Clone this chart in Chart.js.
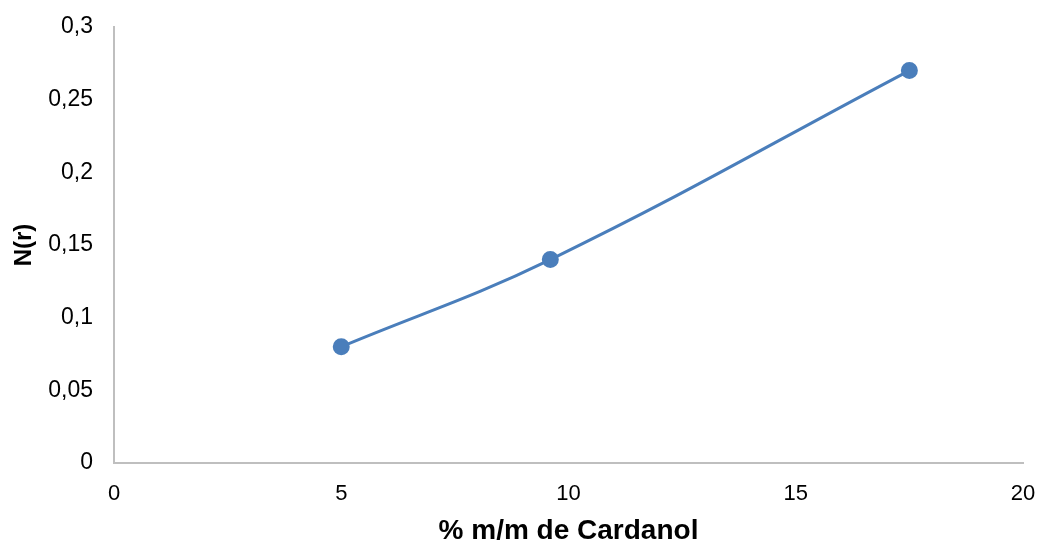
<!DOCTYPE html>
<html>
<head>
<meta charset="utf-8">
<script src="https://cdn.jsdelivr.net/npm/chart.js@4"></script>
<style>
  body { margin: 0; background: #fff; }
  #wrap { width: 1040px; height: 540px; }
</style>
</head>
<body>
<div id="wrap"><canvas id="chart" width="1040" height="540"></canvas></div>
<script>
// data
const cardanol = [5, 9.6, 17.5];
const nr = [0.08, 0.14, 0.27];
const xTitle = "% m/m de Cardanol";
const yTitle = "N(r)";

const comma = (v) => String(+v.toFixed(2)).replace(".", ",");

const points = cardanol.map((x, i) => ({ x: x, y: nr[i] }));

new Chart(document.getElementById("chart").getContext("2d"), {
  type: "scatter",
  data: {
    datasets: [
      {
        label: yTitle,
        data: points,
        showLine: true,
        tension: 0.4,
        borderColor: "#4a7ebb",
        backgroundColor: "#4a7ebb",
        borderWidth: 3,
        pointRadius: 7,
        pointHoverRadius: 7,
      },
    ],
  },
  options: {
    responsive: false,
    animation: false,
    layout: { padding: { top: 27, right: 17, left: 0, bottom: -8 } },
    plugins: { legend: { display: false }, tooltip: { enabled: false } },
    scales: {
      x: {
        type: "linear",
        min: 0,
        max: 20,
        ticks: { stepSize: 5, padding: 0, color: "#000", font: { family: "Liberation Sans", size: 22 } },
        // invisible tick marks just push the labels away from the axis
        grid: { display: false, drawTicks: true, tickLength: 18 },
        border: { color: "#bfbfbf", width: 2 },
        title: {
          display: true,
          text: xTitle,
          color: "#000",
          font: { family: "Liberation Sans", size: 28, weight: "bold" },
          padding: { top: 0, bottom: 0 },
        },
        afterFit: (s) => { s.height = 85; },
      },
      y: {
        min: 0,
        max: 0.3,
        ticks: { stepSize: 0.05, padding: 0, color: "#000", callback: comma, font: { family: "Liberation Sans", size: 23 } },
        grid: { display: false, drawTicks: true, tickLength: 21 },
        border: { color: "#bfbfbf", width: 2 },
        title: {
          display: true,
          text: yTitle,
          color: "#000",
          font: { family: "Liberation Sans", size: 24, weight: "bold" },
          padding: { top: 10, bottom: 4 },
        },
        afterFit: (s) => { s.width = 114; },
      },
    },
  },
});
</script>
</body>
</html>
